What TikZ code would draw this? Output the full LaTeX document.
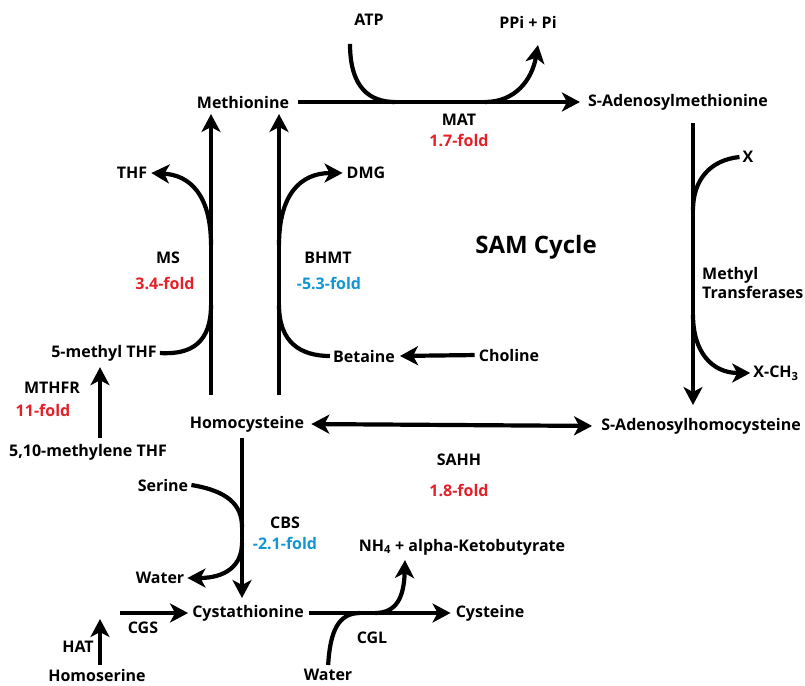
\documentclass[tikz,border=0pt]{standalone}
\usepackage{fontspec}
\setmainfont{Open Sans}
\usetikzlibrary{arrows.meta}
\definecolor{foldred}{RGB}{228,32,40}
\definecolor{foldblue}{RGB}{18,150,210}
\begin{document}
\begin{tikzpicture}[x=1pt,y=-1pt,
  lbl/.style={font=\bfseries\fontsize{16}{18.5}\selectfont, inner sep=1pt},
  uplbl/.style={lbl, text=foldred},
  downlbl/.style={lbl, text=foldblue},
  tip/.tip={Stealth[length=18pt,width=19pt,inset=5pt]},
  flow/.style={line width=4.2pt, -tip},
  both/.style={line width=4.2pt, tip-tip},
  plain/.style={line width=4.2pt}]
\useasboundingbox (0,0) rectangle (805,685);
% nodes
\node[lbl] (atp) at (369,20) {ATP};
\node[lbl] (ppi) at (528,22) {PPi + Pi};
\node[lbl] (met) at (243,102) {Methionine};
\node[lbl] (sam) at (678,102) {S-Adenosylmethionine};
\node[lbl] (mat) at (459,120) {MAT};
\node[uplbl] (matf) at (459,140) {1.7-fold};
\node[lbl] (thf) at (132,173) {THF};
\node[lbl] (dmg) at (366,173) {DMG};
\node[lbl] (ms) at (168,258) {MS};
\node[uplbl] (msf) at (165,283) {3.4-fold};
\node[lbl] (bhmt) at (328,258) {BHMT};
\node[downlbl] (bhmtf) at (329,283) {-5.3-fold};
\node[font=\bfseries\fontsize{24}{28}\selectfont] (cycle) at (536,247) {SAM Cycle};
\node[lbl] (x) at (748,157) {X};
\node[lbl, align=left, anchor=west] (mt) at (701,283) {Methyl\\Transferases};
\node[lbl] (xch) at (776,373) {X-CH\textsubscript{3}};
\node[lbl] (mthf) at (104,353) {5-methyl THF};
\node[lbl] (bet) at (364,356) {Betaine};
\node[lbl] (chol) at (509,355) {Choline};
\node[lbl] (hcy) at (247,424) {Homocysteine};
\node[lbl] (sah) at (701,426) {S-Adenosylhomocysteine};
\node[lbl] (sahh) at (459,460) {SAHH};
\node[uplbl] (sahhf) at (459,490) {1.8-fold};
\node[lbl] (mthfr) at (52,388) {MTHFR};
\node[uplbl] (mthfrf) at (43,410) {11-fold};
\node[lbl] (mthy) at (88,452) {5,10-methylene THF};
\node[lbl] (ser) at (163,485) {Serine};
\node[lbl] (cbs) at (285,523) {CBS};
\node[downlbl] (cbsf) at (285,543) {-2.1-fold};
\node[lbl] (wat1) at (160,578) {Water};
\node[lbl] (nh4) at (462,547) {NH\textsubscript{4} + alpha-Ketobutyrate};
\node[lbl] (cyst) at (248,613) {Cystathionine};
\node[lbl] (cys) at (490,613) {Cysteine};
\node[lbl] (cgs) at (143,628) {CGS};
\node[lbl] (hat) at (78,647) {HAT};
\node[lbl] (cgl) at (372,638) {CGL};
\node[lbl] (hser) at (97,675) {Homoserine};
\node[lbl] (wat2) at (328,675) {Water};
% junction coordinates
\coordinate (matin) at (395,102);
\coordinate (matout) at (485,102);
\coordinate (ppitip) at (538,45);
% MAT
\draw[flow, shorten <=8pt, shorten >=7pt] (met.east) -- (sam.west);
\draw[plain] ([xshift=-19pt,yshift=-17pt]atp.south) .. controls (350,88) and (370,102) .. (matin);
\draw[flow] (matout) .. controls (515,102) and (532,80) .. (ppitip);
% MS and BHMT
\draw[flow] (211,395) -- (211,114);
\draw[flow] (279,395) -- (279,114);
\draw[flow] (211,245) .. controls (211,195) and (190,175) .. ([xshift=3pt]thf.east);
\draw[plain] (211,305) .. controls (211,342) and (192,355) .. ([xshift=2pt]mthf.east);
\draw[flow] (279,245) .. controls (279,195) and (300,173) .. ([xshift=-3pt]dmg.west);
\draw[plain] (279,305) .. controls (279,342) and (300,356) .. ([xshift=-2pt]bet.west);
\draw[flow, shorten <=3pt, shorten >=4pt] (chol.west) -- (bet.east);
% methyl transferases
\draw[flow] (693,123) -- (693,405);
\draw[plain] ([xshift=-2pt]x.west) .. controls (710,160) and (693,180) .. (693,210);
\draw[flow] (693,315) .. controls (693,352) and (712,373) .. ([xshift=-2pt]xch.west);
% SAHH
\draw[both, shorten <=6pt, shorten >=8pt] (hcy.east) -- (sah.west);
% MTHFR
\draw[flow, shorten <=5pt, shorten >=5pt] (mthy.north -| 100,0) -- (mthf.south -| 100,0);
% CBS
\draw[flow] (242,438) -- (242,598);
\draw[plain] ([xshift=2pt]ser.east) .. controls (228,491) and (242,505) .. (242,527);
\draw[flow] (242,543) .. controls (242,566) and (225,578) .. ([xshift=2pt]wat1.east);
% CGS, HAT
\draw[flow, shorten >=3pt] (120,613) -- (cyst.west);
\draw[flow, shorten <=3pt] (hser.north -| 100,0) -- (100,619);
% CGL
\draw[flow, shorten <=4pt, shorten >=4pt] (cyst.east) -- (cys.west);
\draw[plain, shorten <=3pt] (wat2.north) .. controls (330,632) and (338,613) .. (360,613);
\draw[flow] (375,613) .. controls (396,613) and (404,598) .. (405,560);
\end{tikzpicture}
\end{document}
